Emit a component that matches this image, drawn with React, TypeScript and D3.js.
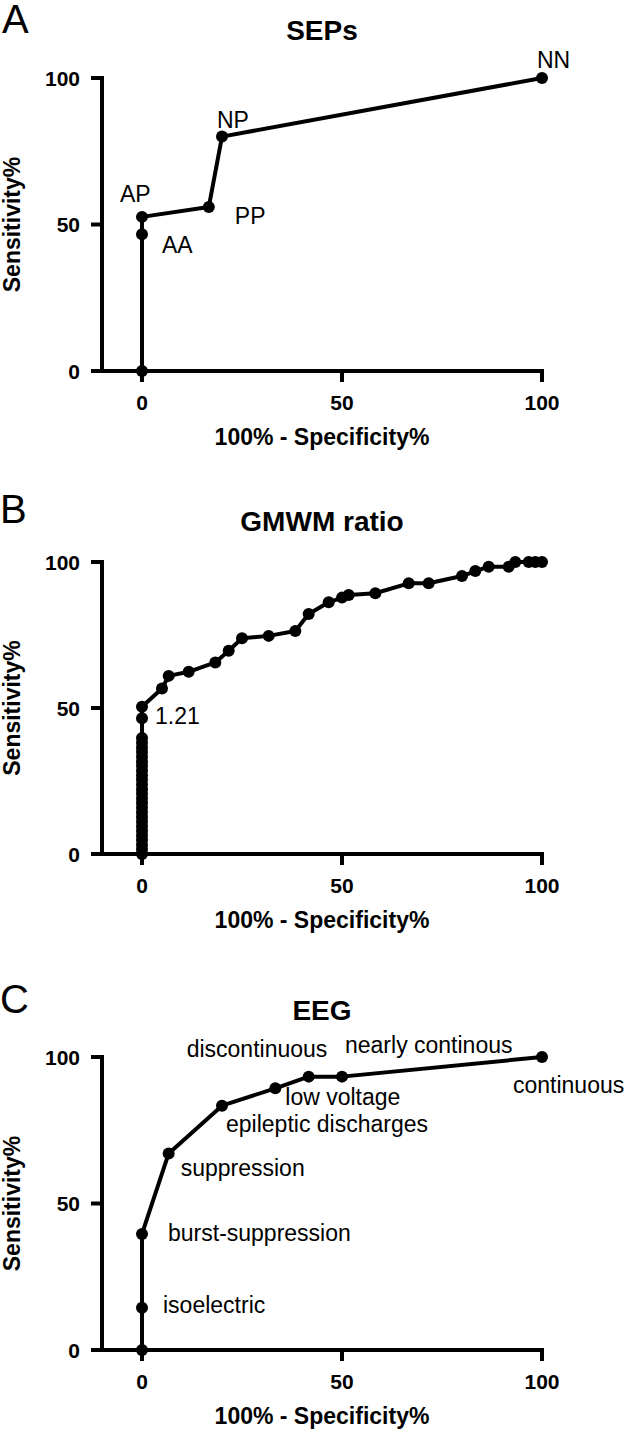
import React from 'react';
import * as d3 from 'd3';

const FONT = '"Liberation Sans", Arial, Helvetica, sans-serif';

const X_TICKS = [0, 50, 100];
const Y_TICKS = [0, 50, 100];
const X_TITLE = '100% - Specificity%';
const Y_TITLE = 'Sensitivity%';

// Panel A: SEPs
const sepsFpr = [0, 0, 0, 16.7, 20, 100];
const sepsTpr = [0, 46.7, 52.6, 56, 80, 100];
const sepsLabelText = ['AA', 'AP', 'PP', 'NP', 'NN'];
const sepsLabelIdx = [1, 2, 3, 4, 5];

// Panel B: GMWM ratio
const gmwmFpr = [
  0, 0, 0, 0, 0, 0, 0, 0, 0, 0, 0, 0, 0, 0, 0, 0, 0, 0, 0, 0, 0, 0, 0, 0, 0, 0, 0, 0,
  5, 6.67, 11.67, 18.33, 21.67, 25, 31.67, 38.33, 41.67, 46.67, 50, 51.67, 58.33,
  66.67, 71.67, 80, 83.33, 86.67, 91.67, 93.33, 96.67, 98.33, 100,
];
const gmwmTpr = [
  0, 1.6, 3.2, 4.8, 6.3, 7.9, 9.5, 11.1, 12.7, 14.3, 15.9, 17.5, 19.0, 20.6, 22.2, 23.8,
  25.4, 27.0, 28.6, 30.2, 31.7, 33.3, 34.9, 36.5, 38.1, 39.7, 46.5, 50.4,
  56.7, 61, 62.4, 65.6, 69.6, 73.9, 74.7, 76.4, 82.2, 86.2, 87.8, 88.7, 89.3,
  92.7, 92.7, 95.2, 96.9, 98.4, 98.4, 100, 100, 100, 100,
];
const gmwmLabelText = ['1.21'];
const gmwmLabelIdx = [27];

// Panel C: EEG
const eegFpr = [0, 0, 0, 6.67, 20, 33.33, 41.67, 50, 100];
const eegTpr = [0, 14.4, 39.6, 67.1, 83.4, 89.3, 93.3, 93.3, 100];
const eegLabelText = [
  'isoelectric', 'burst-suppression', 'suppression', 'epileptic discharges',
  'low voltage', 'discontinuous', 'nearly continous', 'continuous',
];
const eegLabelIdx = [1, 2, 3, 4, 5, 6, 7, 8];

// label offsets (px) from their points
const sepsOffsets = [[20, 19], [-22, -15], [26, 17], [-5, -9], [-5, -10]];
const gmwmOffsets = [[13, 17]];
const eegOffsets = [[21, 5], [26, 7], [12, 23], [4, 26], [10, 17], [-122, -20], [3, -24], [-29, 36]];

type PanelProps = {
  letter: string;
  title: string;
  fpr: number[];
  tpr: number[];
  labelText: string[];
  labelIdx: number[];
  offsets: number[][];
  bottom: number;
  top: number;
  titleY: number;
  letterY: number;
  letterX: number;
};

function Panel(p: PanelProps) {
  const x = d3.scaleLinear().domain([-10, 100]).range([102, 542]);
  const y = d3.scaleLinear().domain([0, 100]).range([p.bottom, p.top]);
  const pts: [number, number][] = p.fpr.map((v, i) => [x(v), y(p.tpr[i])]);
  const line = d3.line()(pts) || '';
  const x0 = x(-10);
  const cx = (x(-10) + x(100)) / 2;
  const cy = (y(0) + y(100)) / 2;
  return (
    <g>
      <text x={p.letterX} y={p.letterY} fontSize={40} fontFamily={FONT} fill="#000">{p.letter}</text>
      <text x={cx} y={p.titleY} fontSize={28} fontWeight="bold" fontFamily={FONT} textAnchor="middle">{p.title}</text>
      {/* axes */}
      <g stroke="#000" strokeWidth={4} strokeLinecap="square" fill="none">
        <path d={`M${x0},${y(0)}V${y(100)}`} />
        <path d={`M${x0},${y(0)}H${x(100)}`} />
        {Y_TICKS.map((t) => (
          <path key={'yt' + t} d={`M${x0 - 9},${y(t)}H${x0}`} />
        ))}
        {X_TICKS.map((t) => (
          <path key={'xt' + t} d={`M${x(t)},${y(0)}V${y(0) + 9}`} />
        ))}
      </g>
      {Y_TICKS.map((t) => (
        <text key={'yl' + t} x={80} y={y(t) + 7.5} fontSize={21} fontWeight="bold" fontFamily={FONT} textAnchor="end">{t}</text>
      ))}
      {X_TICKS.map((t) => (
        <text key={'xl' + t} x={x(t)} y={y(0) + 39} fontSize={21} fontWeight="bold" fontFamily={FONT} textAnchor="middle">{t}</text>
      ))}
      <text x={cx} y={y(0) + 74} fontSize={23} fontWeight="bold" fontFamily={FONT} textAnchor="middle">{X_TITLE}</text>
      <text transform={`translate(20,${cy}) rotate(-90)`} fontSize={23} fontWeight="bold" fontFamily={FONT} textAnchor="middle">{Y_TITLE}</text>
      {/* data */}
      <path d={line} fill="none" stroke="#000" strokeWidth={4} strokeLinejoin="round" />
      {pts.map((pt, i) => (
        <circle key={'c' + i} cx={pt[0]} cy={pt[1]} r={6} fill="#000" />
      ))}
      {p.labelText.map((t, i) => {
        const pt = pts[p.labelIdx[i]];
        return (
          <text key={'lb' + i} x={pt[0] + p.offsets[i][0]} y={pt[1] + p.offsets[i][1]} fontSize={23} fontFamily={FONT}>{t}</text>
        );
      })}
    </g>
  );
}

export default function App() {
  return (
    <svg width={625} height={1436} style={{ position: 'absolute', left: 0, top: 0, display: 'block', background: '#fff' }}>
      <rect width={625} height={1436} fill="#fff" />
      <Panel letter="A" title="SEPs" fpr={sepsFpr} tpr={sepsTpr} labelText={sepsLabelText} labelIdx={sepsLabelIdx}
        offsets={sepsOffsets} bottom={371} top={78} titleY={40} letterY={33} letterX={2} />
      <Panel letter="B" title="GMWM ratio" fpr={gmwmFpr} tpr={gmwmTpr} labelText={gmwmLabelText} labelIdx={gmwmLabelIdx}
        offsets={gmwmOffsets} bottom={854} top={562} titleY={531} letterY={523} letterX={0} />
      <Panel letter="C" title="EEG" fpr={eegFpr} tpr={eegTpr} labelText={eegLabelText} labelIdx={eegLabelIdx}
        offsets={eegOffsets} bottom={1350} top={1057} titleY={1020} letterY={1013} letterX={0} />
    </svg>
  );
}
